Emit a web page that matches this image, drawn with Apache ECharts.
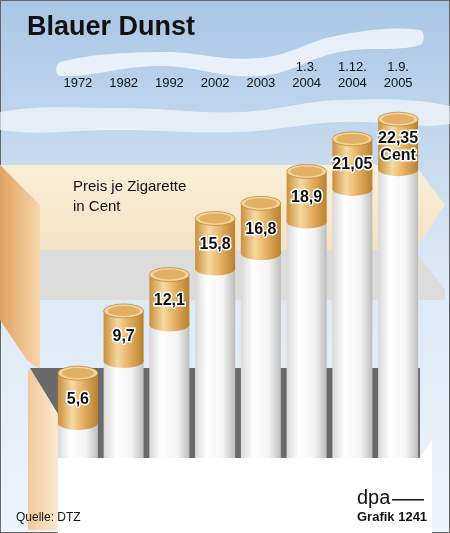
<!DOCTYPE html>
<html><head><meta charset="utf-8">
<script src="https://cdn.jsdelivr.net/npm/echarts@6/dist/echarts.min.js"></script>
<style>html,body{margin:0;padding:0;}#c{width:450px;height:533px;}</style>
</head><body><div id="c"></div>
<script>
const categories = ['1972','1982','1992','2002','2003','1.3.\n2004','1.12.\n2004','1.9.\n2005'];
const values = [5.6, 9.7, 12.1, 15.8, 16.8, 18.9, 21.05, 22.35];
const valueLabels = ['5,6','9,7','12,1','15,8','16,8','18,9','21,05','22,35\nCent'];

const chart = echarts.init(document.getElementById('c'));
const gold = new echarts.graphic.LinearGradient(0,0,1,0,[
  {offset:0,color:'#c98f3c'},{offset:0.35,color:'#f5d9a0'},{offset:0.6,color:'#e8b56a'},{offset:1,color:'#b9802f'}]);
const white = new echarts.graphic.LinearGradient(0,0,1,0,[
  {offset:0,color:'#d8d8d8'},{offset:0.3,color:'#ffffff'},{offset:0.7,color:'#f4f4f4'},{offset:1,color:'#bdbdbd'}]);
function ell(cx,cy,rx,ry,style){return {type:'circle',x:cx,y:cy,scaleY:ry/rx,shape:{cx:0,cy:0,r:rx},style:style};}

chart.setOption({
  animation:false,
  grid:{left:55,right:29,top:79,bottom:75},
  graphic:[
    {type:'rect',z:-10,shape:{x:0,y:0,width:450,height:533},style:{fill:new echarts.graphic.LinearGradient(0,0,0,1,[{offset:0,color:'#a9c6e6'},{offset:0.5,color:'#dbe8f5'},{offset:1,color:'#eef4fa'}]),stroke:'#666',lineWidth:2}},
    {type:'polygon',z:-9,shape:{smooth:0.4,points:[[60,62],[160,52],[260,58],[340,35],[420,30],[420,45],[340,52],[260,76],[160,66],[60,76]]},style:{fill:'rgba(255,255,255,0.7)'}},
    {type:'polygon',z:-9,shape:{smooth:0.4,points:[[0,112],[120,108],[240,112],[340,100],[450,106],[450,124],[340,122],[240,132],[120,130],[0,130]]},style:{fill:'rgba(255,255,255,0.6)'}},
    {type:'polygon',z:-8,shape:{points:[[0,165],[415,165],[445,205],[415,250],[0,250]]},style:{fill:new echarts.graphic.LinearGradient(0,0,0,1,[{offset:0,color:'#fbefd8'},{offset:1,color:'#f3e2c4'}])}},
    {type:'polygon',z:-8,shape:{points:[[0,250],[415,250],[445,290],[445,300],[0,300]]},style:{fill:'#dcdcdc'}},
    {type:'polygon',z:-7,shape:{points:[[0,165],[40,205],[40,370],[27,360],[0,320]]},style:{fill:new echarts.graphic.LinearGradient(0,0,1,0,[{offset:0,color:'#e1a25e'},{offset:1,color:'#f6d7ae'}])}},
    {type:'rect',z:-7,shape:{x:28,y:370,width:30,height:160},style:{fill:new echarts.graphic.LinearGradient(0,0,1,0,[{offset:0,color:'#f2c99b'},{offset:1,color:'#fbe9d3'}])}},
    {type:'polygon',z:-6,shape:{points:[[30,368],[420,368],[420,458],[85,458]]},style:{fill:'#6a6a6a'}},
    {type:'polygon',z:-6,shape:{points:[[58,458],[420,458],[432,440],[432,533],[58,533]]},style:{fill:'#ffffff'}},
    {type:'text',left:27,top:14,style:{text:'Blauer Dunst',font:'bold 27px Liberation Sans, Arial',fill:'#111'}},
    {type:'text',left:73,top:177,style:{text:'Preis je Zigarette\nin Cent',font:'15px Liberation Sans, Arial',fill:'#111',lineHeight:20}},
    {type:'text',left:16,top:512,style:{text:'Quelle: DTZ',font:'12px Liberation Sans, Arial',fill:'#111'}},
    {type:'text',left:357,top:488,style:{text:'dpa',font:'20px Liberation Sans, Arial',fill:'#111'}},
    {type:'rect',shape:{x:392,y:499,width:32,height:1.5},style:{fill:'#111'}},
    {type:'text',left:357,top:511,style:{text:'Grafik 1241',font:'bold 13px Liberation Sans, Arial',fill:'#111'}}
  ],
  xAxis:{type:'category',data:categories,position:'top',axisLine:{show:false},axisTick:{show:false},
    axisLabel:{margin:-12,verticalAlign:'bottom',lineHeight:16,fontSize:13,color:'#111',fontFamily:'Liberation Sans, Arial'}},
  yAxis:{type:'value',min:0,max:25,show:false},
  series:[{type:'custom',data:values.map((v,i)=>[i,v]),
    renderItem:function(params,api){
      const i=api.value(0),v=api.value(1);
      const top=api.coord([i,v]),bot=api.coord([i,0]);
      const w=40,x=top[0]-w/2,ry=7,fh=50;
      return {type:'group',children:[
        {type:'rect',shape:{x:x,y:top[1]+fh,width:w,height:bot[1]-top[1]-fh},style:{fill:white}},
        {type:'rect',shape:{x:x,y:top[1],width:w,height:fh},style:{fill:gold}},
        ell(top[0],top[1]+fh,w/2,ry,{fill:gold}),
        ell(top[0],top[1],w/2,ry,{fill:'#f3d49a',stroke:'#b5802f',lineWidth:1}),
        ell(top[0],top[1],w/2-4,ry-2,{fill:'#e2b064'}),
        {type:'text',x:top[0],y:top[1]+(i===7?28:26),style:{text:valueLabels[i],align:'center',verticalAlign:'middle',
          font:'bold 16px Liberation Sans, Arial',fill:'#111',stroke:'#fff',lineWidth:3,lineHeight:17}}
      ]};
    }}]
});
</script></body></html>
